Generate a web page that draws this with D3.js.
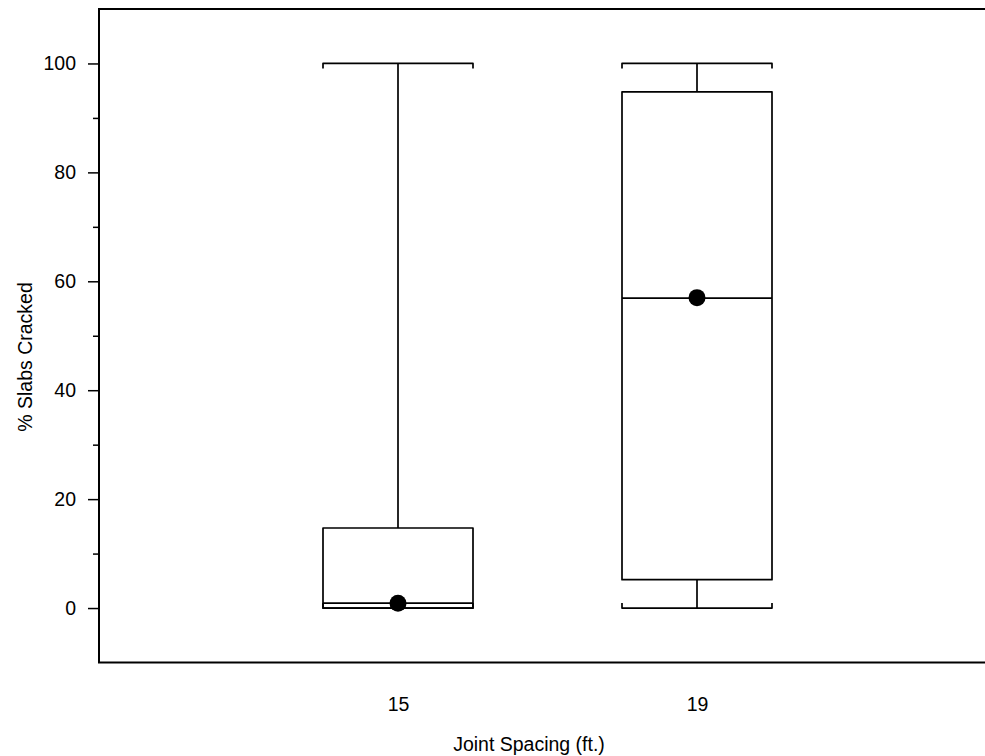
<!DOCTYPE html>
<html><head><meta charset="utf-8">
<script src="https://cdn.jsdelivr.net/npm/d3@7"></script>
<style>body{margin:0;background:#fff}svg{display:block}text{font-family:"Liberation Sans",Arial,sans-serif}</style>
</head><body>
<script>
const categories = ["15", "19"];
const whiskerLow = [0, 0];
const q1 = [0, 5.2];
const median = [0.9, 56.9];
const q3 = [14.7, 94.8];
const whiskerHigh = [100, 100];
const means = [0.9, 57];
const yMajorTicks = [0, 20, 40, 60, 80, 100];
const yMinorTicks = [10, 30, 50, 70, 90];

(function(){
const W = 985, H = 756;
const FS = 19.5;
const svg = d3.select("body").append("svg").attr("width", W).attr("height", H);
const mLeft = 99, mTop = 9, mBottom = 662.5;
const y = d3.scaleLinear().domain([-10, 110]).range([mBottom, mTop]);
const x = d3.scalePoint().domain(categories).range([mLeft, 996]).padding(1);
const hw = 75;

// axes frame
const axisG = svg.append("g");
axisG.append("line").attr("x1", mLeft).attr("x2", mLeft).attr("y1", mTop).attr("y2", mBottom).attr("stroke", "#000").attr("stroke-width", 2);
axisG.append("line").attr("x1", mLeft - 1).attr("x2", W + 5).attr("y1", mBottom).attr("y2", mBottom).attr("stroke", "#000").attr("stroke-width", 2.2);
axisG.append("line").attr("x1", mLeft - 1).attr("x2", W + 5).attr("y1", mTop).attr("y2", mTop).attr("stroke", "#000").attr("stroke-width", 2);

// y axis
const yAxis = d3.axisLeft(y).tickValues(yMajorTicks).tickSize(11).tickPadding(12).tickFormat(d3.format("d"));
const ya = svg.append("g").attr("transform", `translate(${mLeft},0)`).call(yAxis);
ya.select(".domain").remove();
ya.selectAll(".tick line").attr("stroke-width", 1.5);
ya.selectAll(".tick text").attr("font-size", FS).attr("fill", "#000").style("font-family", '"Liberation Sans",Arial,sans-serif');
const yMinor = d3.axisLeft(y).tickValues(yMinorTicks).tickSize(6).tickFormat("");
const ym = svg.append("g").attr("transform", `translate(${mLeft},0)`).call(yMinor);
ym.select(".domain").remove();
ym.selectAll(".tick line").attr("stroke-width", 1.5);

// x tick labels
const xAxis = d3.axisBottom(x).tickSize(0);
const xa = svg.append("g").attr("transform", `translate(0,${mBottom})`).call(xAxis);
xa.select(".domain").remove();
xa.selectAll(".tick text").attr("y", 48).attr("dy", 0).attr("font-size", FS).attr("fill", "#000").style("font-family", '"Liberation Sans",Arial,sans-serif');

// titles
svg.append("text").attr("x", 529).attr("y", 751).attr("text-anchor", "middle").attr("font-size", FS).text("Joint Spacing (ft.)");
svg.append("text").attr("transform", "translate(32,357) rotate(-90)").attr("text-anchor", "middle").attr("font-size", FS).text("% Slabs Cracked");

// boxes
const data = categories.map((c, i) => ({c, lo: whiskerLow[i], q1: q1[i], med: median[i], q3: q3[i], hi: whiskerHigh[i], mean: means[i]}));
const g = svg.append("g").attr("stroke", "#000").attr("stroke-width", 1.7).attr("fill", "none");
data.forEach(d => {
  const cx = x(d.c);
  g.append("rect").attr("x", cx - hw).attr("y", y(d.q3)).attr("width", 2 * hw).attr("height", y(d.q1) - y(d.q3)).attr("stroke-linejoin", "round");
  g.append("line").attr("x1", cx - hw).attr("x2", cx + hw).attr("y1", y(d.med)).attr("y2", y(d.med));
  g.append("line").attr("x1", cx).attr("x2", cx).attr("y1", y(d.q3)).attr("y2", y(d.hi));
  g.append("line").attr("x1", cx).attr("x2", cx).attr("y1", y(d.q1)).attr("y2", y(d.lo));
  g.append("path").attr("d", `M${cx - hw},${y(d.hi) + 5}V${y(d.hi)}H${cx + hw}V${y(d.hi) + 5}`).attr("stroke-linejoin", "round");
  g.append("path").attr("d", `M${cx - hw},${y(d.lo) - 5}V${y(d.lo)}H${cx + hw}V${y(d.lo) - 5}`).attr("stroke-linejoin", "round");
  svg.append("circle").attr("cx", cx).attr("cy", y(d.mean)).attr("r", 8.5).attr("fill", "#000");
});
})();
</script>
</body></html>
